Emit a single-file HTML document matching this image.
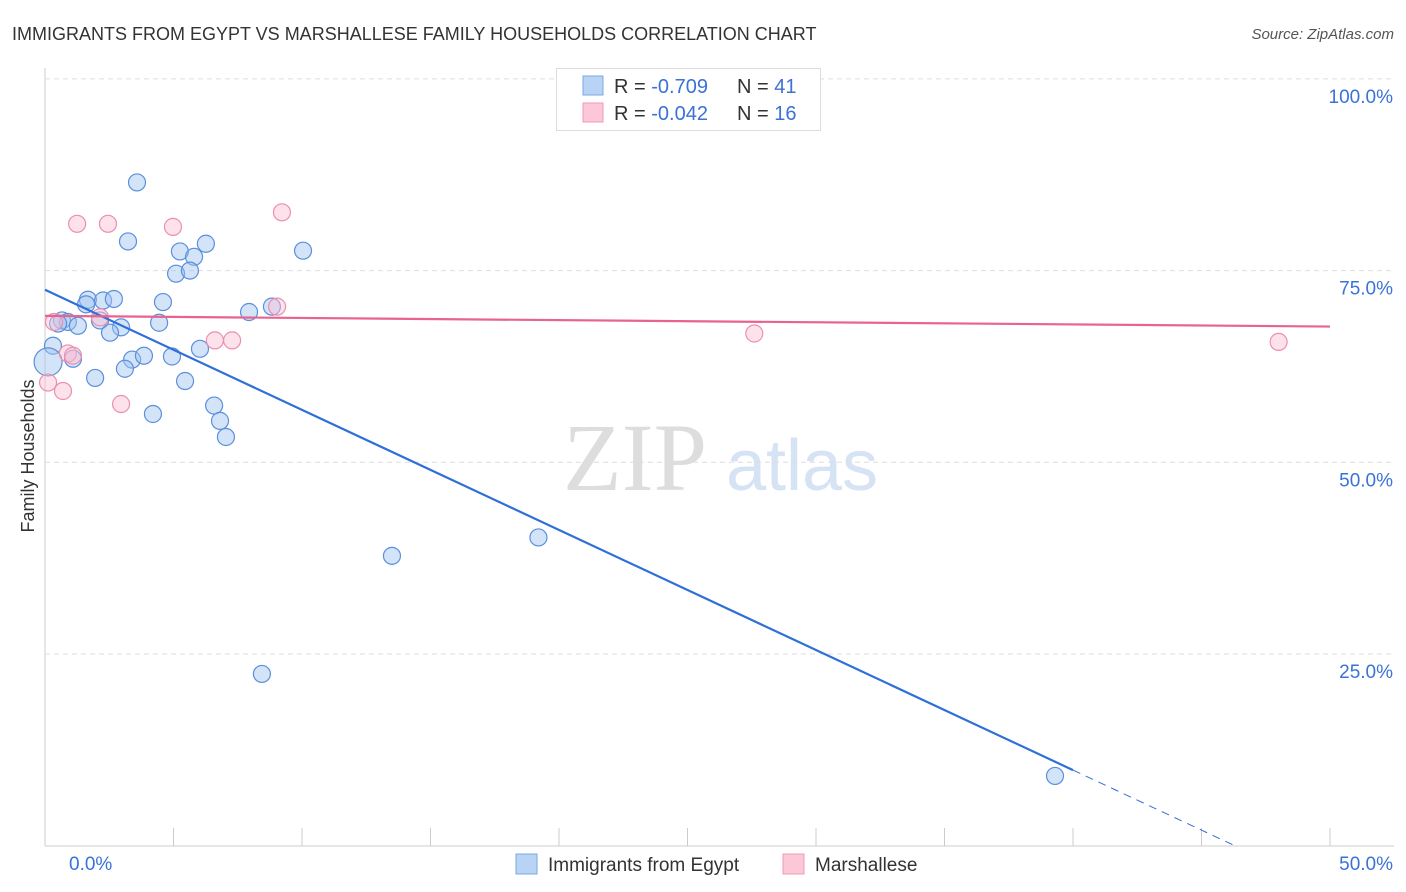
<!DOCTYPE html>
<html><head><meta charset="utf-8">
<style>
body{margin:0;background:#fff;font-family:"Liberation Sans",sans-serif;}
#wrap{position:relative;width:1406px;height:892px;overflow:hidden;}
</style></head>
<body>
<div id="wrap">
<svg id="chart" width="1406" height="892" xmlns="http://www.w3.org/2000/svg">
<text x="12" y="40" font-size="18" fill="#333">IMMIGRANTS FROM EGYPT VS MARSHALLESE FAMILY HOUSEHOLDS CORRELATION CHART</text>
<text x="1394" y="39" font-size="15" fill="#555" font-style="italic" text-anchor="end">Source: ZipAtlas.com</text>
<text x="635" y="490" font-size="96" fill="#ddd" font-family="Liberation Serif,serif" text-anchor="middle">ZIP</text>
<text x="802" y="490" font-size="72" fill="#d6e3f5" text-anchor="middle">atlas</text>
<text transform="translate(34,456) rotate(-90)" font-size="18" fill="#333" text-anchor="middle">Family Households</text>
<g id="grid"></g><g id="marks"></g><g id="lines"></g>
<g>
<rect x="556.5" y="68.5" width="264" height="62" fill="#fff" stroke="#ddd"/>
<rect x="583" y="76" width="20" height="19" fill="#b9d3f5" stroke="#7aa7e6"/>
<rect x="583" y="103" width="20" height="19" fill="#fcc8d8" stroke="#f09ab4"/>
<text x="614" y="93" font-size="20" fill="#333">R = <tspan fill="#3a72d6">-0.709</tspan><tspan x="737">N = </tspan><tspan fill="#3a72d6">41</tspan></text>
<text x="614" y="120" font-size="20" fill="#333">R = <tspan fill="#3a72d6">-0.042</tspan><tspan x="737">N = </tspan><tspan fill="#3a72d6">16</tspan></text>
</g>
<g>
<rect x="516" y="854" width="21" height="20" fill="#b9d3f5" stroke="#7aa7e6"/>
<text x="548" y="871" font-size="19" fill="#333">Immigrants from Egypt</text>
<rect x="783" y="854" width="21" height="20" fill="#fcc8d8" stroke="#f09ab4"/>
<text x="815" y="871" font-size="19" fill="#333">Marshallese</text>
</g>
</svg>
</div>
<script>
const xTickLabels=["0.0%","50.0%"];
const yTicks=[25,50,75,100];
const yTickLabels=["25.0%","50.0%","75.0%","100.0%"];
const egyptX=[3.58,3.23,5.25,6.26,5.80,5.10,5.64,10.04,1.67,2.26,2.68,4.59,7.94,8.83,0.66,0.89,0.51,1.28,2.14,2.96,2.53,4.44,0.31,1.09,3.39,3.85,4.94,6.03,3.11,1.95,5.45,4.20,6.58,6.81,7.04,13.5,19.2,8.44,39.3,0.12,1.6];
const egyptY=[86.5,78.8,77.5,78.5,76.8,74.6,75.0,77.6,71.2,71.1,71.3,70.9,69.6,70.3,68.5,68.3,68.1,67.8,68.5,67.6,66.9,68.2,65.2,63.5,63.4,63.9,63.8,64.8,62.2,61.0,60.6,56.3,57.4,55.4,53.3,37.8,40.2,22.4,9.1,63.1,70.6];
const marshX=[1.25,2.45,4.98,9.22,0.35,0.89,1.09,2.14,0.12,0.70,2.96,6.61,7.28,9.03,27.6,48.0];
const marshY=[81.1,81.1,80.7,82.6,68.3,64.2,63.9,68.9,60.4,59.3,57.6,65.9,65.9,70.3,66.8,65.7];
const egyptFit=[72.5,-1.566];
const marshFit=[69.1,-0.028];
const X=v=>45+v*1285/50, Y=v=>845.7-v*7.668;
const NS="http://www.w3.org/2000/svg";
function mk(tag,attrs,parent){const e=document.createElementNS(NS,tag);for(const k in attrs)e.setAttribute(k,attrs[k]);parent.appendChild(e);return e;}
const grid=document.getElementById('grid'),marks=document.getElementById('marks'),lines=document.getElementById('lines');
let ax=mk('line',{x1:45,y1:68,x2:45,y2:846,stroke:'#ccc'},grid);


let bx=mk('line',{x1:45,y1:846,x2:1394,y2:846,stroke:'#ccc'},grid);


yTicks.forEach((t,i)=>{
 let g=mk('line',{x1:45,y1:Y(t),x2:1394,y2:Y(t),stroke:'#ddd','stroke-dasharray':'5,4'},grid);
 
 
 let l=mk('text',{x:1393,y:Y(t)+24,'font-size':19,fill:'#3a72d6','text-anchor':'end'},grid);
 l.textContent=yTickLabels[i];
 
 
});
for(let i=0;i<=10;i++){
 let t=mk('line',{x1:X(i*5),y1:828,x2:X(i*5),y2:846,stroke:'#ccc'},grid);
 
 
}
[[0,69,'start'],[50,1393,'end']].forEach((d,i)=>{
 let l=mk('text',{x:d[1],y:870,'font-size':19,fill:'#3a72d6','text-anchor':d[2]},grid);
 l.textContent=xTickLabels[i];
 
 
});
egyptX.forEach((x,i)=>{
 let c=mk('circle',{cx:X(x),cy:Y(egyptY[i]),r:(i==39?14:8.5),fill:'rgba(160,196,240,0.45)',stroke:'#5b8fdc','stroke-width':1.2},marks);
 
 
});
marshX.forEach((x,i)=>{
 let c=mk('circle',{cx:X(x),cy:Y(marshY[i]),r:8.5,fill:'rgba(250,190,210,0.45)',stroke:'#ec8fae','stroke-width':1.2},marks);
 
 
});
const fy=(f,x)=>f[0]+f[1]*x;
let t1=mk('line',{x1:X(0),y1:Y(fy(egyptFit,0)),x2:X(40),y2:Y(fy(egyptFit,40)),stroke:'#2f6fd8','stroke-width':2.2},lines);


let t2=mk('line',{x1:X(40),y1:Y(fy(egyptFit,40)),x2:X(46.3),y2:Y(fy(egyptFit,46.3)),stroke:'#2f6fd8','stroke-width':1,'stroke-dasharray':'8,6'},lines);


let t3=mk('line',{x1:X(0),y1:Y(fy(marshFit,0)),x2:X(50),y2:Y(fy(marshFit,50)),stroke:'#e8638f','stroke-width':2.2},lines);


</script>
</body></html>
